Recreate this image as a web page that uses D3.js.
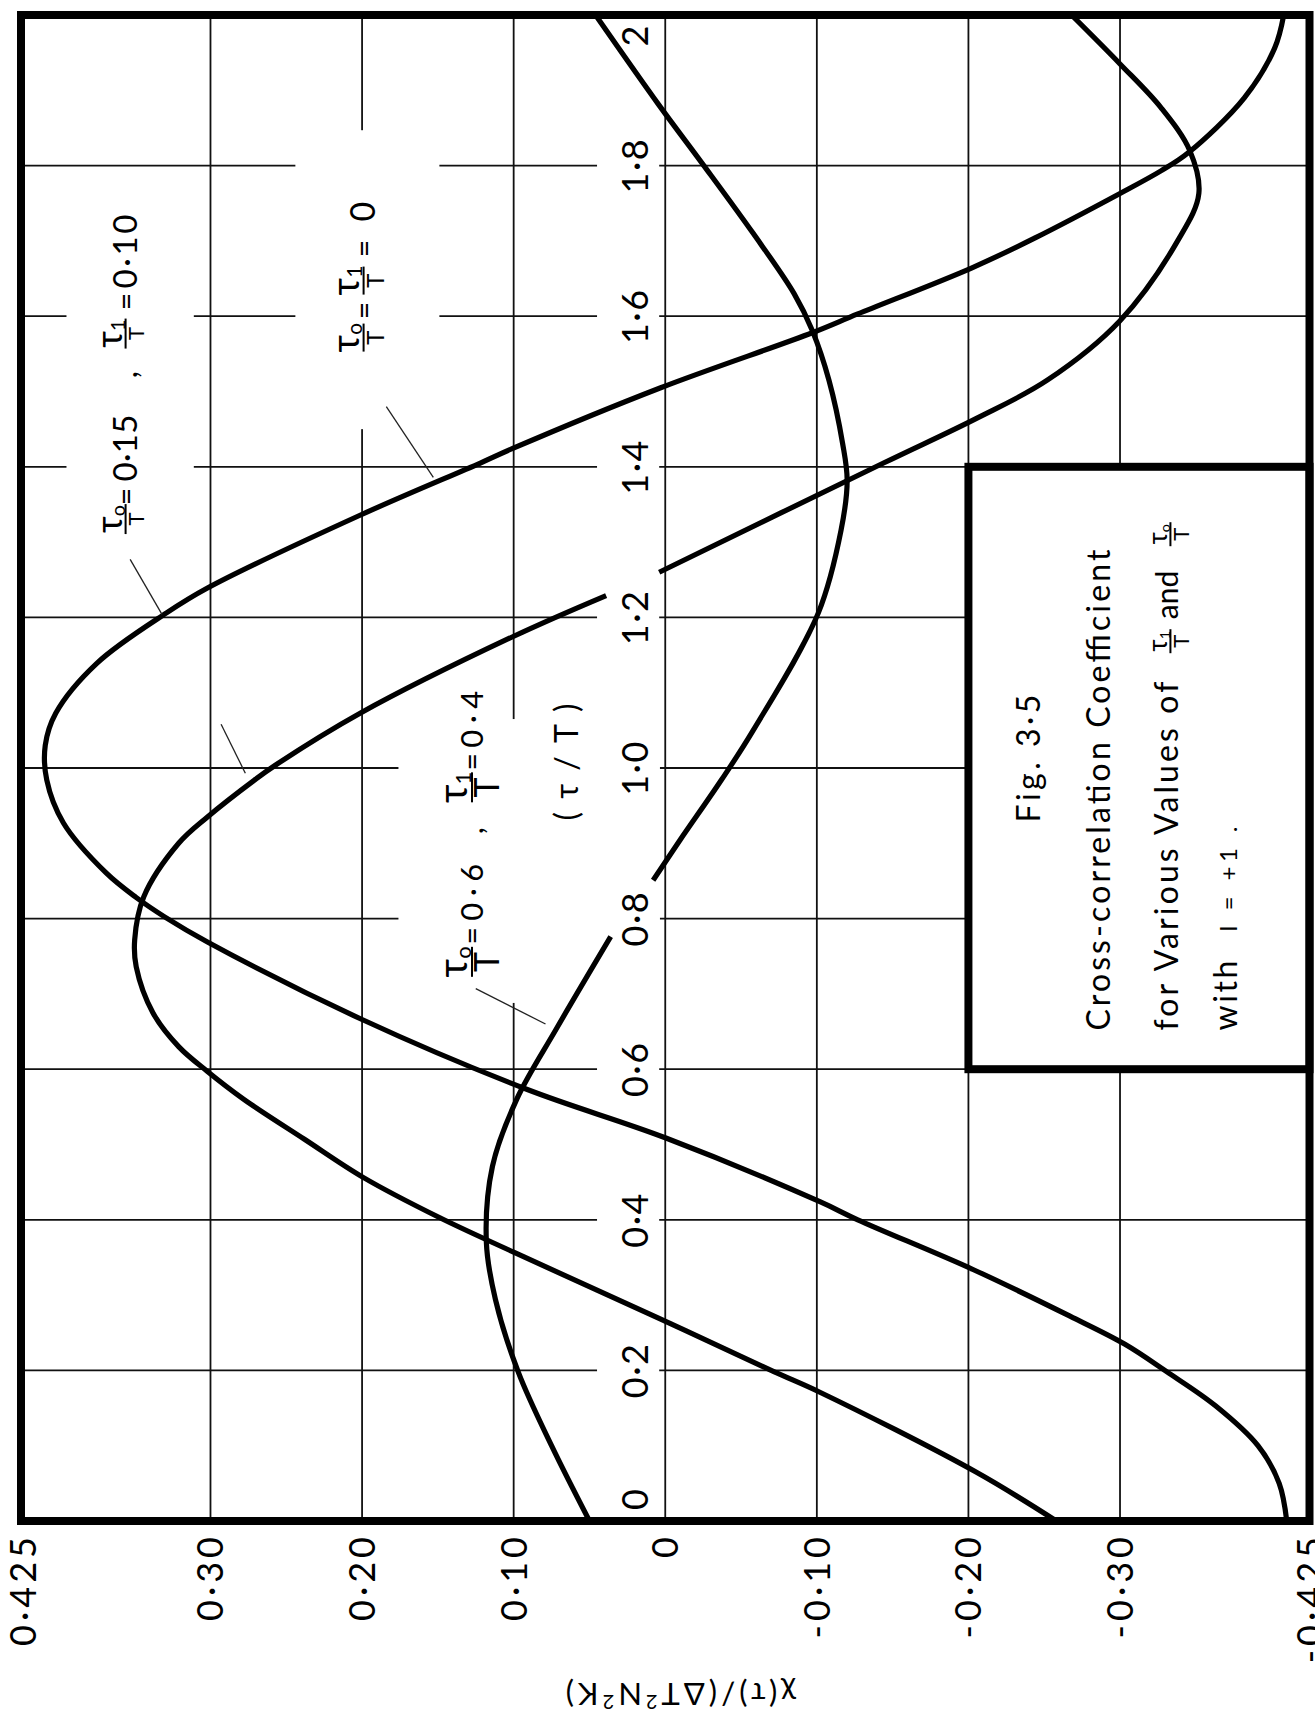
<!DOCTYPE html>
<html>
<head>
<meta charset="utf-8">
<script src="https://cdn.jsdelivr.net/npm/d3@7"></script>
<style>
  html, body { margin: 0; padding: 0; background: #fff; }
  svg text { font-family: Lato, "Open Sans", "DejaVu Sans", sans-serif; fill: #000; }
</style>
</head>
<body>
<svg id="chart" width="1315" height="1722"></svg>
<script>
// τ/T axis (drawn bottom → top on the page)
const tauTicks = [0, 0.2, 0.4, 0.6, 0.8, 1.0, 1.2, 1.4, 1.6, 1.8, 2.0];
const tauTickLabels = ["0", "0·2", "0·4", "0·6", "0·8", "1·0", "1·2", "1·4", "1·6", "1·8", "2"];

// χ(τ)/(ΔT²N²K) axis (drawn left → right on the page, positive side on the left)
const chiTicks = [0.425, 0.30, 0.20, 0.10, 0, -0.10, -0.20, -0.30, -0.425];
const chiTickLabels = ["0·425", "0·30", "0·20", "0·10", "0", "-0·10", "-0·20", "-0·30", "-0·425"];

// τ0/T = τ1/T = 0
const tauA = [0, 0.05, 0.10, 0.153, 0.198, 0.235, 0.272, 0.334, 0.40, 0.424, 0.509, 0.573, 0.666, 0.769, 0.802, 0.828, 0.861, 0.927, 0.984, 1.030, 1.073, 1.139, 1.206, 1.239, 1.336, 1.405, 1.424, 1.505, 1.578, 1.603, 1.664, 1.704, 1.763, 1.793, 1.817, 1.890, 1.956, 2.0];
const chiA = [-0.410, -0.405, -0.391, -0.363, -0.331, -0.303, -0.267, -0.203, -0.127, -0.102, 0.0, 0.091, 0.200, 0.302, 0.330, 0.349, 0.369, 0.397, 0.408, 0.409, 0.402, 0.375, 0.329, 0.302, 0.201, 0.122, 0.101, 0.003, -0.097, -0.127, -0.202, -0.244, -0.300, -0.327, -0.345, -0.382, -0.402, -0.408];

// τ0/T = 0·15, τ1/T = 0·10   (null: the line is broken under the "1·2" tick label)
const tauB = [0, 0.065, 0.171, 0.198, 0.268, 0.357, 0.403, 0.456, 0.507, 0.560, 0.597, 0.630, 0.675, 0.736, 0.772, 0.829, 0.900, 0.935, 0.984, 1.004, 1.073, 1.174, 1.229, null, 1.260, 1.405, 1.464, 1.515, 1.594, 1.700, 1.763, 1.820, 1.877, 1.935, 2.0];
const chiB = [-0.258, -0.205, -0.102, -0.072, 0.003, 0.100, 0.149, 0.199, 0.238, 0.278, 0.302, 0.321, 0.338, 0.349, 0.350, 0.344, 0.321, 0.302, 0.271, 0.257, 0.201, 0.101, 0.039, null, 0.004, -0.144, -0.205, -0.252, -0.300, -0.338, -0.352, -0.346, -0.327, -0.300, -0.268];

// τ0/T = 0·6, τ1/T = 0·4   (null: the line is broken under the "0·8" tick label)
const tauC = [0, 0.10, 0.198, 0.294, 0.370, 0.471, 0.560, 0.653, 0.776, null, 0.851, 0.905, 0.984, 1.05, 1.206, 1.316, 1.382, 1.431, 1.515, 1.581, 1.630, 1.710, 1.804, 1.880, 2.0];
const chiC = [0.050, 0.075, 0.097, 0.112, 0.118, 0.114, 0.098, 0.072, 0.036, null, 0.008, -0.010, -0.037, -0.058, -0.101, -0.116, -0.120, -0.117, -0.108, -0.097, -0.085, -0.058, -0.024, 0.004, 0.046];

// thin pointer lines from each caption to its curve, as [τ/T, χ] pairs
const pointerA = [[[1.480, 0.184], [1.386, 0.153]]];
const pointerB = [[[1.277, 0.353], [1.204, 0.332]], [[1.058, 0.293], [0.993, 0.277]]];
const pointerC = [[[0.707, 0.125], [0.660, 0.079]]];

// ---------------------------------------------------------------------------
const svg = d3.select("#chart");
svg.append("rect").attr("width", 1315).attr("height", 1722).attr("fill", "#fff");

const left = 21, bottom = 1521, W = 1506, H = 1288.5;
const x = d3.scaleLinear().domain([0, 2]).range([0, W]);            // τ/T
const y = d3.scaleLinear().domain([0.425, -0.425]).range([0, H]);   // χ

// the whole plot is laid out normally and then turned a quarter turn
const g = svg.append("g").attr("transform", `translate(${left},${bottom}) rotate(-90)`);

g.append("clipPath").attr("id", "plotClip")
  .append("rect").attr("x", 0).attr("y", 0).attr("width", W).attr("height", H);

// grid
const grid = g.append("g").attr("stroke", "#111").attr("stroke-width", 1.8);
grid.selectAll("line.gt").data(tauTicks.slice(1, -1)).join("line").attr("class", "gt")
  .attr("x1", d => x(d)).attr("x2", d => x(d)).attr("y1", 0).attr("y2", H);
grid.selectAll("line.gc").data(chiTicks.slice(1, -1)).join("line").attr("class", "gc")
  .attr("y1", d => y(d)).attr("y2", d => y(d)).attr("x1", 0).attr("x2", W);

// openings in the grid around the lettering
const openings = [
  { t0: 1.294, t1: 1.785, c0: 0.395, c1: 0.311 },
  { t0: 1.450, t1: 1.847, c0: 0.244, c1: 0.149 },
  { t0: 0.688, t1: 1.065, c0: 0.176, c1: 0.0035 }
].concat(tauTicks.slice(1, -1).map(t => ({ t0: t - 0.045, t1: t + 0.045, c0: 0.045, c1: 0.004 })));
g.append("g").selectAll("rect").data(openings).join("rect")
  .attr("x", d => x(d.t0)).attr("width", d => x(d.t1) - x(d.t0))
  .attr("y", d => y(d.c0)).attr("height", d => y(d.c1) - y(d.c0))
  .attr("fill", "#fff");

// caption box
g.append("rect")
  .attr("x", x(0.6)).attr("y", y(-0.2))
  .attr("width", x(1.4) - x(0.6)).attr("height", y(-0.425) - y(-0.2))
  .attr("fill", "#fff").attr("stroke", "#000").attr("stroke-width", 8);

// curves
const line = d3.line()
  .defined(d => d[1] !== null)
  .x(d => x(d[0])).y(d => y(d[1]))
  .curve(d3.curveCatmullRom.alpha(0.5));
const curves = g.append("g").attr("clip-path", "url(#plotClip)");
[[tauA, chiA], [tauB, chiB], [tauC, chiC]].forEach(([t, c]) => {
  curves.append("path")
    .datum(t.map((v, i) => [v, c[i]]))
    .attr("d", line)
    .attr("fill", "none").attr("stroke", "#000")
    .attr("stroke-width", 5.2).attr("stroke-linejoin", "round");
});

// pointer lines
g.append("g").attr("stroke", "#222").attr("stroke-width", 1.3)
  .selectAll("line").data(pointerA.concat(pointerB, pointerC)).join("line")
  .attr("x1", d => x(d[0][0])).attr("y1", d => y(d[0][1]))
  .attr("x2", d => x(d[1][0])).attr("y2", d => y(d[1][1]));

// frame
g.append("rect").attr("x", 0).attr("y", 0).attr("width", W).attr("height", H)
  .attr("fill", "none").attr("stroke", "#000").attr("stroke-width", 8);

// τ/T tick labels, written just above the zero line
g.append("g").selectAll("text").data(tauTicks).join("text")
  .attr("x", (d, i) => i === 0 ? x(d) + 11 : (i === tauTicks.length - 1 ? x(d) - 9 : x(d)))
  .attr("y", y(0) - 17)
  .attr("text-anchor", (d, i) => i === 0 ? "start" : (i === tauTicks.length - 1 ? "end" : "middle"))
  .attr("font-size", 36).attr("letter-spacing", 1.5)
  .text((d, i) => tauTickLabels[i]);

// χ tick labels below the frame
g.append("g").selectAll("text").data(chiTicks).join("text")
  .attr("x", -12).attr("y", (d, i) => y(d) + 13 + (i === 0 ? 2 : 0))
  .attr("text-anchor", "end")
  .attr("font-size", 36).attr("letter-spacing", 4)
  .text((d, i) => chiTickLabels[i]);

// χ axis title
const yt = g.append("text")
  .attr("transform", `translate(-173, ${y(-0.009)}) rotate(-90)`)
  .attr("text-anchor", "middle").attr("dy", "0.35em")
  .attr("font-size", 31).attr("letter-spacing", 4);
yt.append("tspan").text("χ(τ)/(ΔT");
yt.append("tspan").attr("font-size", 20).attr("dy", -12).text("2");
yt.append("tspan").attr("dy", 12).text("N");
yt.append("tspan").attr("font-size", 20).attr("dy", -12).text("2");
yt.append("tspan").attr("dy", 12).text("K)");

// τ/T axis title
g.append("text")
  .attr("x", x(1.008)).attr("y", y(0.065) + 11)
  .attr("text-anchor", "middle").attr("font-size", 32)
  .attr("textLength", 117).attr("lengthAdjust", "spacing")
  .text("( τ / T )");

// stacked fraction τ_sub / T
function frac(parent, cx, cy, sub, o) {
  parent.append("line")
    .attr("x1", cx - o.w / 2).attr("x2", cx + o.w / 2)
    .attr("y1", cy).attr("y2", cy)
    .attr("stroke", "#000").attr("stroke-width", 2);
  const n = parent.append("text")
    .attr("x", cx).attr("y", cy - o.gap)
    .attr("text-anchor", "middle").attr("font-size", o.num);
  n.append("tspan").text("τ");
  n.append("tspan").attr("font-size", o.num * 0.55).attr("dy", o.num * 0.1).text(sub);
  parent.append("text")
    .attr("x", cx).attr("y", cy + 3 + o.den * 0.72)
    .attr("text-anchor", "middle").attr("font-size", o.den)
    .text("T");
}
function word(parent, x0, base, str, size, len, anchor) {
  const t = parent.append("text").attr("x", x0).attr("y", base)
    .attr("font-size", size).attr("text-anchor", anchor || "start").text(str);
  if (len) t.attr("textLength", len).attr("lengthAdjust", "spacing");
  return t;
}

// curve captions (offsets in px along the caption)
const cap = g.append("g");
{ // τ0/T = τ1/T = 0
  const sx = x(1.553), cy = y(0.199), b = cy + 11.5, fo = { w: 28, num: 38, den: 24, gap: 5 };
  frac(cap, sx + 14, cy, "o", fo);
  word(cap, sx + 41, b, "=", 30, null, "middle");
  frac(cap, sx + 71, cy, "1", fo);
  word(cap, sx + 103, b, "=", 30, null, "middle");
  word(cap, sx + 130, b, "0", 34, 21);
}
{ // τ0/T = 0·15 , τ1/T = 0·10
  const sx = x(1.310), cy = y(0.356), b = cy + 11.5, fo = { w: 30, num: 36, den: 22, gap: 4 };
  frac(cap, sx + 15.5, cy, "o", fo);
  word(cap, sx + 38, b, "=", 30, null, "middle");
  word(cap, sx + 53, b, "0·15", 33, 67);
  word(cap, sx + 160, b, ",", 32, null, "middle");
  frac(cap, sx + 201, cy, "1", fo);
  word(cap, sx + 233, b, "=", 30, null, "middle");
  word(cap, sx + 246, b, "0·10", 33, 74);
}
{ // τ0/T = 0·6 , τ1/T = 0·4
  const sx = x(0.724), cy = y(0.1275), b = cy + 11, fo = { w: 30, num: 40, den: 34, gap: 5 };
  frac(cap, sx + 14, cy, "o", fo);
  word(cap, sx + 40, b, "=", 30, null, "middle");
  word(cap, sx + 55, b, "0·6", 31, 57);
  word(cap, sx + 145, b, ",", 31, null, "middle");
  frac(cap, sx + 188.5, cy, "1", fo);
  word(cap, sx + 214, b, "=", 30, null, "middle");
  word(cap, sx + 228, b, "0·4", 31, 57);
}

// caption box text
{
  const bx = x(0.6), by = y(-0.2), fo = { w: 24, num: 26, den: 22, gap: 3 };
  word(cap, bx + 310.6, by + 71.4, "Fig. 3·5", 32, 128, "middle");
  word(cap, bx + 38.6, by + 142, "Cross-correlation  Coefficient", 32, 481);
  word(cap, bx + 38.6, by + 209.5, "for  Various  Values  of", 32, 349);
  frac(cap, bx + 428, by + 202, "1", fo);
  word(cap, bx + 450, by + 209.5, "and", 30);
  frac(cap, bx + 535, by + 202, "o", fo);
  word(cap, bx + 38.6, by + 268.5, "with", 32, 70);
  word(cap, bx + 137.6, by + 268.5, "l = +1 .", 24, 105);
}
</script>
</body>
</html>
